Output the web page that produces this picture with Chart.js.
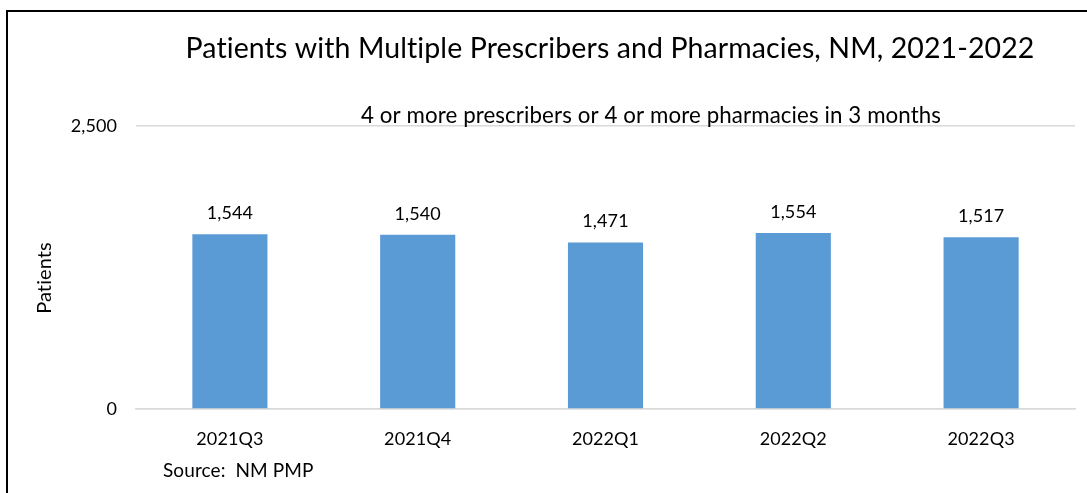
<!DOCTYPE html>
<html>
<head>
<meta charset="utf-8">
<script src="https://cdn.jsdelivr.net/npm/chart.js@4/dist/chart.umd.min.js"></script>
<style>
  html, body { margin: 0; padding: 0; background: #fff; }
  #wrap { position: relative; width: 1087px; height: 493px; overflow: hidden; }
  #frame { position: absolute; left: 6px; top: 10px; width: 1200px; height: 600px; border-left: 2px solid #000; border-top: 2px solid #000; }
  canvas { position: absolute; left: 0; top: 0; }
</style>
</head>
<body>
<div id="wrap">
  <div id="frame"></div>
  <canvas id="c" width="1087" height="493"></canvas>
</div>
<script>
const categories = ["2021Q3", "2021Q4", "2022Q1", "2022Q2", "2022Q3"];
const patients = [1544, 1540, 1471, 1554, 1517];
const yTicks = [0, 2500];
const titleText = "Patients with Multiple Prescribers and Pharmacies, NM, 2021-2022";
const subtitleText = "4 or more prescribers or 4 or more pharmacies in 3 months";
const yTitleText = "Patients";
const sourceText = "Source:  NM PMP";

const FONT = "Lato, 'Noto Sans', sans-serif";

const textPlugin = {
  id: 'texts',
  beforeLayout(chart) { chart.ctx.letterSpacing = '0.1px'; },
  beforeDraw(chart) { chart.ctx.letterSpacing = '0.1px'; },
  afterDraw(chart) {
    const ctx = chart.ctx;
    ctx.save();
    ctx.letterSpacing = '0.1px';
    ctx.fillStyle = '#000';
    ctx.textBaseline = 'alphabetic';
    ctx.textAlign = 'center';
    ctx.font = "28.5px " + FONT;
    ctx.fillText(titleText, 610, 58);
    ctx.font = "22.3px " + FONT;
    ctx.fillText(subtitleText, 651, 123);
    ctx.textAlign = 'left';
    ctx.font = "19px " + FONT;
    ctx.fillText(sourceText, 163, 477);
    // y axis title
    ctx.save();
    ctx.translate(45, 278);
    ctx.rotate(-Math.PI / 2);
    ctx.textAlign = 'center';
    ctx.textBaseline = 'middle';
    ctx.font = "20px " + FONT;
    ctx.fillText(yTitleText, 0, 0);
    ctx.restore();
    // data labels
    const meta = chart.getDatasetMeta(0);
    ctx.textAlign = 'center';
    ctx.font = "18px " + FONT;
    meta.data.forEach((bar, i) => {
      ctx.fillText(patients[i].toLocaleString('en-US'), bar.x, bar.y - 15);
    });
    ctx.restore();
  }
};

new Chart(document.getElementById('c'), {
  type: 'bar',
  data: {
    labels: categories,
    datasets: [{
      data: patients,
      backgroundColor: '#5b9bd5',
      borderWidth: 0,
      categoryPercentage: 1.0,
      barPercentage: 0.4
    }]
  },
  options: {
    responsive: false,
    animation: false,
    devicePixelRatio: 1,
    layout: { padding: { top: 126, right: 12, left: 0, bottom: 0 } },
    plugins: { legend: { display: false }, tooltip: { enabled: false }, title: { display: false } },
    scales: {
      x: {
        grid: { display: false, drawTicks: false },
        border: { display: true, color: '#d9d9d9', width: 1.5 },
        ticks: { color: '#000', font: { family: FONT, size: 18 }, padding: 19, maxRotation: 0 },
        afterFit(scale) { scale.height = 84; }
      },
      y: {
        min: 0, max: 2500,
        afterBuildTicks(scale) { scale.ticks = yTicks.map(v => ({ value: v })); },
        grid: { color: '#d9d9d9', lineWidth: 1.5, drawTicks: false },
        border: { display: false },
        ticks: {
          color: '#000', font: { family: FONT, size: 18 }, padding: 19,
          callback: v => v.toLocaleString('en-US')
        },
        title: { display: false },
        afterFit(scale) { scale.width = 136; }
      }
    }
  },
  plugins: [textPlugin]
});
</script>
</body>
</html>
